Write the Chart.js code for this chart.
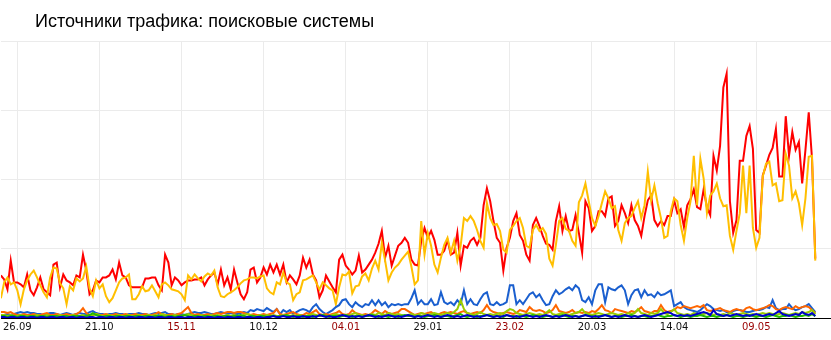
<!DOCTYPE html>
<html><head><meta charset="utf-8">
<script src="https://cdn.jsdelivr.net/npm/chart.js@4/dist/chart.umd.min.js"></script>
<style>
html,body{margin:0;padding:0;background:#fff;}
#wrap{position:relative;width:831px;height:340px;overflow:hidden;}
#title{position:absolute;left:35px;top:11px;font:18px "Liberation Sans",Arial,sans-serif;color:#000;white-space:nowrap;}
canvas{position:absolute;left:0;top:0;}
</style></head><body>
<div id="wrap"><canvas id="c" width="831" height="340"></canvas><div id="title">Источники трафика: поисковые системы</div></div>
<script>
// day index 0 = 21.09
const tickDays = [5,30,55,80,105,130,155,180,205,230];
const tickLabels = ['26.09','21.10','15.11','10.12','04.01','29.01','23.02','20.03','14.04','09.05'];
const tickHoliday = [false,false,true,false,true,false,true,false,false,true];

const yandex = [43,39,29,58,36,36,34,31,44,28,
23,31,41,29,26,23,54,56,31,44,
38,36,33,43,41,64,48,24,28,38,
36,41,41,43,49,39,56,43,41,33,
31,31,31,31,40,40,41,41,33,28,
64,56,33,41,38,33,36,38,38,39,
39,41,33,39,43,46,34,49,33,41,
29,49,36,24,19,26,49,51,36,41,
51,44,54,46,54,44,54,36,43,39,
34,43,61,51,59,44,38,21,28,43,
37,31,26,59,64,53,49,44,48,63,
46,49,54,59,66,75,88,61,73,53,
63,73,76,81,76,59,54,53,78,91,
81,88,79,64,64,68,79,64,66,86,
53,73,71,78,81,74,81,114,131,118,
98,81,76,48,71,81,98,106,84,78,
64,58,94,101,93,83,75,74,69,98,
113,88,103,88,89,104,86,66,118,111,
88,93,108,108,103,121,123,93,98,114,
106,96,114,99,93,83,103,119,124,99,
93,98,94,103,103,119,106,110,92,114,
120,130,112,110,130,112,104,164,149,174,
233,247,118,86,99,159,159,184,194,171,
89,86,144,154,165,172,191,143,143,204,
164,188,170,178,136,170,208,161,60];

const google = [20,36,41,34,36,28,14,29,38,44,
48,41,33,26,21,41,51,50,35,30,
14,32,28,40,37,40,52,30,22,38,
30,34,22,16,20,28,36,40,41,44,
19,19,24,32,27,28,33,27,21,34,
36,33,29,28,27,24,18,43,39,44,
40,37,42,45,43,48,31,22,21,24,
26,28,31,35,38,39,41,41,40,42,
43,30,26,24,36,34,46,36,34,18,
24,26,38,39,41,43,36,29,36,33,
30,28,14,31,44,43,47,25,32,33,
42,45,38,50,58,49,76,58,38,46,
51,54,59,63,67,52,34,38,98,64,
86,73,54,46,61,74,81,66,78,58,
73,101,98,103,98,89,78,71,116,101,
94,95,88,69,66,89,93,98,101,91,
73,71,89,94,88,91,85,60,53,74,
98,101,90,88,78,73,117,124,136,118,
101,93,103,116,128,121,111,113,89,78,
96,101,103,111,118,101,114,148,119,134,
116,101,81,83,108,121,118,94,78,101,
118,164,114,161,141,106,124,128,136,121,
113,114,83,69,88,106,154,106,154,91,
71,81,143,156,158,134,136,118,119,166,
154,121,128,116,94,121,163,164,58];

const mailru = [3,3,4,3,4,5,6,5,6,5,
5,4,4,3,4,5,5,4,3,4,
5,4,3,4,5,4,4,6,7,5,
4,4,3,4,4,5,4,4,3,4,
4,4,5,4,4,3,4,5,4,5,
6,4,4,3,4,4,3,4,5,6,
5,5,6,5,4,4,5,6,5,4,
5,4,4,5,6,5,8,7,9,8,
7,10,8,6,9,4,8,6,8,4,
6,8,9,8,6,11,14,9,6,4,
6,8,11,13,18,19,14,11,16,13,
11,14,13,18,13,18,13,16,11,14,
13,14,13,14,14,20,28,14,18,14,
14,19,13,14,26,16,14,16,13,18,
14,28,14,19,14,13,19,24,26,14,
13,16,13,14,16,33,33,14,18,14,
19,24,26,21,24,18,13,14,22,28,
24,26,29,31,28,33,30,18,16,21,
14,28,34,34,16,31,29,28,31,33,
28,14,23,28,29,21,28,23,24,21,
26,23,24,26,28,12,14,16,11,9,
8,7,6,8,11,14,12,9,8,7,
8,6,5,7,8,8,7,6,6,7,
8,8,9,11,10,18,10,8,9,9,
14,10,8,9,11,12,14,10,6];

const rambler = [6,6,5,6,4,3,3,4,3,3,
4,3,3,4,5,3,3,4,3,3,
4,3,3,4,6,10,5,3,3,4,
3,3,4,3,3,4,3,3,4,3,
3,4,3,3,4,3,3,4,6,4,
3,3,4,3,4,5,8,11,5,3,
4,3,3,4,3,4,5,4,5,6,
6,5,6,6,5,4,3,4,3,3,
4,3,4,5,9,4,3,4,5,6,
4,3,3,5,4,6,8,4,3,4,
3,4,5,7,4,3,4,8,5,4,
3,4,3,5,8,6,4,7,5,4,
5,6,9,9,7,5,3,4,5,4,
5,6,4,3,5,6,5,6,5,4,
6,7,5,4,5,6,5,8,13,8,
6,5,4,5,6,5,4,5,8,7,
6,11,8,7,8,7,5,6,8,13,
7,6,5,6,8,5,6,5,6,5,
7,6,9,13,8,7,5,9,8,7,
6,5,7,6,8,11,7,6,5,7,
7,13,8,6,7,8,11,10,12,11,
10,11,12,11,13,8,7,8,9,10,
8,7,6,8,9,8,7,10,11,9,
8,9,10,11,13,12,9,8,10,11,
10,9,12,10,11,12,11,8,5];

const nigma = [3,3,2,3,2,2,3,2,2,2,
2,3,2,2,3,2,2,2,3,2,
2,2,3,2,2,3,2,2,3,4,
3,2,2,3,2,2,3,2,2,3,
2,2,3,2,2,3,2,3,2,4,
3,2,2,3,2,2,3,4,3,2,
2,3,2,2,3,2,3,2,2,3,
2,3,2,2,3,4,3,2,2,3,
2,3,2,3,2,2,3,2,2,3,
2,3,2,2,3,4,3,2,3,2,
2,3,4,3,2,3,2,4,5,3,
3,2,3,4,3,5,4,3,5,4,
3,4,3,2,3,4,3,3,5,4,
3,4,5,4,3,4,5,4,6,9,
18,9,5,4,3,4,6,4,3,4,
3,4,5,4,7,9,8,5,4,3,
4,5,4,3,4,3,5,8,4,3,
4,5,4,3,4,5,6,9,5,4,
3,4,5,4,3,4,5,4,3,4,
3,5,4,5,9,5,4,3,5,4,
5,9,5,4,6,9,5,4,3,4,
3,5,4,3,4,5,4,3,4,3,
4,3,5,4,3,4,5,4,3,4,
3,4,5,4,5,4,3,4,5,4,
3,4,5,4,6,5,6,8,4];

const bing = [2,2,1,2,2,1,2,2,1,2,
2,1,2,2,1,2,2,2,1,2,
2,1,2,2,2,1,2,3,5,3,
2,1,2,2,1,2,2,1,2,2,
1,2,2,1,2,2,1,2,2,2,
1,2,2,1,2,2,3,2,1,2,
2,1,2,2,1,2,2,1,2,2,
1,2,2,3,2,1,2,2,1,2,
2,1,2,2,1,2,2,3,2,1,
2,2,1,2,2,1,2,2,3,2,
1,2,2,1,2,3,2,1,2,2,
1,2,2,3,2,1,2,2,1,2,
2,1,2,3,2,2,1,2,2,1,
2,2,3,2,1,2,2,1,2,3,
4,2,1,2,2,1,2,2,3,2,
1,2,2,1,3,2,2,1,2,2,
1,2,3,2,2,1,2,2,1,2,
2,3,2,1,2,2,1,2,3,2,
2,1,2,2,3,2,1,2,2,1,
2,2,3,2,1,2,2,1,2,2,
3,2,1,2,2,3,2,1,2,2,
1,2,2,3,2,1,2,2,1,2,
2,3,2,1,2,2,1,2,3,2,
1,2,2,1,2,3,2,1,2,2,
3,2,1,2,2,3,2,4,2];

const yahoo = [1,1,0,1,1,0,1,1,0,1,
1,0,1,1,0,1,1,0,1,1,
0,1,1,0,1,1,0,1,1,0,
1,1,0,1,1,0,1,1,0,1,
1,0,1,1,0,1,1,0,1,1,
0,1,1,0,1,1,0,1,1,0,
1,1,0,1,1,0,1,1,0,1,
1,0,1,1,0,1,1,0,1,1,
0,1,1,2,1,1,2,1,1,2,
1,1,2,1,1,2,1,3,2,1,
2,1,1,2,3,2,1,2,1,2,
1,2,3,2,1,2,1,2,3,2,
1,2,1,2,3,2,1,2,1,2,
3,2,1,2,1,2,3,2,1,2,
1,2,3,2,1,2,1,2,3,2,
1,2,1,2,3,2,1,2,1,2,
3,2,1,2,1,2,3,2,1,2,
1,2,3,2,1,2,1,2,3,2,
1,2,1,2,3,2,1,2,1,2,
3,2,1,2,1,2,3,2,1,2,
3,4,5,6,5,3,2,3,2,3,
2,3,4,5,6,5,3,8,4,3,
2,3,2,3,4,3,2,3,2,3,
4,3,2,3,4,3,5,7,4,3,
2,3,4,3,6,4,3,5,2];

const series = [
  {name:'Yahoo', data:yahoo, color:'#0000cc'},
  {name:'Bing', data:bing, color:'#22bb00'},
  {name:'Nigma', data:nigma, color:'#99cc00'},
  {name:'Rambler', data:rambler, color:'#ff6600'},
  {name:'Поиск Mail.Ru', data:mailru, color:'#1a5fcf'},
  {name:'Google', data:google, color:'#ffbf00'},
  {name:'Яндекс', data:yandex, color:'#ff0000'}
];

const datasets = series.map(s => ({
  label: s.name,
  data: s.data.map((v, i) => ({x: i, y: v})),
  borderColor: s.color,
  backgroundColor: s.color,
  borderWidth: 2,
  pointRadius: 0,
  tension: 0,
  fill: false
}));

new Chart(document.getElementById('c'), {
  type: 'line',
  data: {datasets},
  options: {
    responsive: false,
    animation: false,
    devicePixelRatio: 1,
    layout: {padding: {top: 41, bottom: 4, left: 0, right: 0}},
    plugins: {legend: {display: false}, tooltip: {enabled: false}, title: {display: false}},
    scales: {
      x: {
        type: 'linear',
        min: 0.04,
        max: 252.78,
        afterBuildTicks: (s) => { s.ticks = tickDays.map(v => ({value: v})); },
        grid: {color: '#ebebeb', drawTicks: false},
        border: {color: '#000', width: 1},
        ticks: {
          autoSkip: false,
          maxRotation: 0,
          padding: 3,
          font: {family: 'DejaVu Sans', size: 10},
          color: (ctx) => tickHoliday[ctx.index] ? '#990000' : '#111',
          callback: (v) => { const k = tickDays.indexOf(v); return k >= 0 ? tickLabels[k] : ''; }
        }
      },
      y: {
        min: 0,
        max: 280,
        ticks: {display: false, stepSize: 70},
        grid: {color: (ctx) => ctx.tick && ctx.tick.value === 0 ? 'rgba(0,0,0,0)' : '#ebebeb', drawTicks: false},
        border: {display: false}
      }
    }
  }
});
</script>
</body></html>
